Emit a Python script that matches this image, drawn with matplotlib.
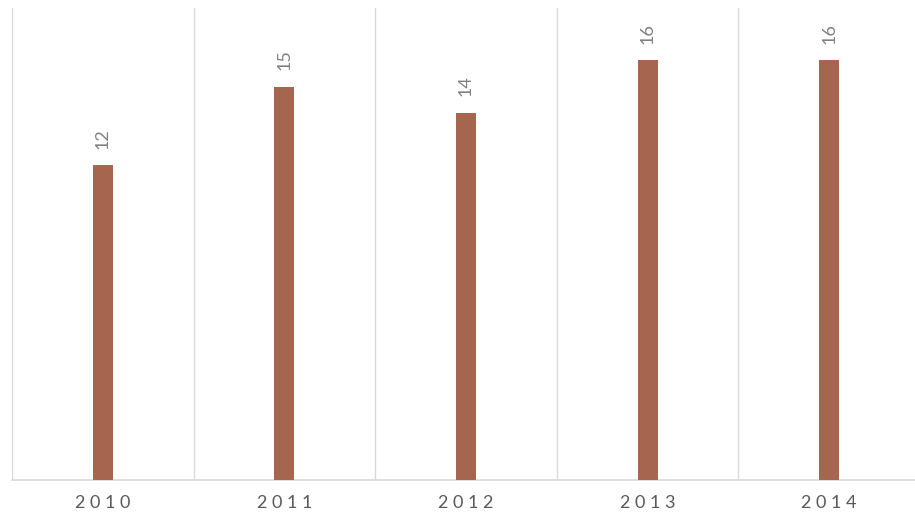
import matplotlib

matplotlib.use("Agg")
import matplotlib.pyplot as plt

years = ["2010", "2011", "2012", "2013", "2014"]
values = [12, 15, 14, 16, 16]

BAR = "#a5654e"
GRID = "#d9d9d9"

plt.rcParams["font.family"] = ["Lato", "DejaVu Sans"]

fig = plt.figure(figsize=(9.15, 5.18), dpi=100)
ax = fig.add_axes([12 / 915, 38 / 518, 908 / 915, 472 / 518])

xs = list(range(len(years)))
ax.bar(xs, values, width=0.11, color=BAR, zorder=3)

for x, v in zip(xs, values):
    ax.annotate(str(v), (x, v), xytext=(0, 12), textcoords="offset points",
                rotation=90, ha="center", va="bottom", fontsize=13,
                color="#808080")

ax.set_xlim(-0.5, len(years) - 0.5)
ax.set_ylim(0, 18)
for b in [i - 0.5 for i in range(len(years) + 1)]:
    ax.axvline(b, color=GRID, linewidth=1, zorder=1)

ax.set_xticks(xs)
ax.set_xticklabels([" ".join(y) for y in years], fontsize=13, color="#595959")
ax.tick_params(axis="x", length=0, pad=11)
ax.set_yticks([])
for side in ["top", "right", "left"]:
    ax.spines[side].set_visible(False)
ax.spines["bottom"].set_color(GRID)
ax.spines["bottom"].set_linewidth(1.2)

fig.savefig("out.png", dpi=100)
